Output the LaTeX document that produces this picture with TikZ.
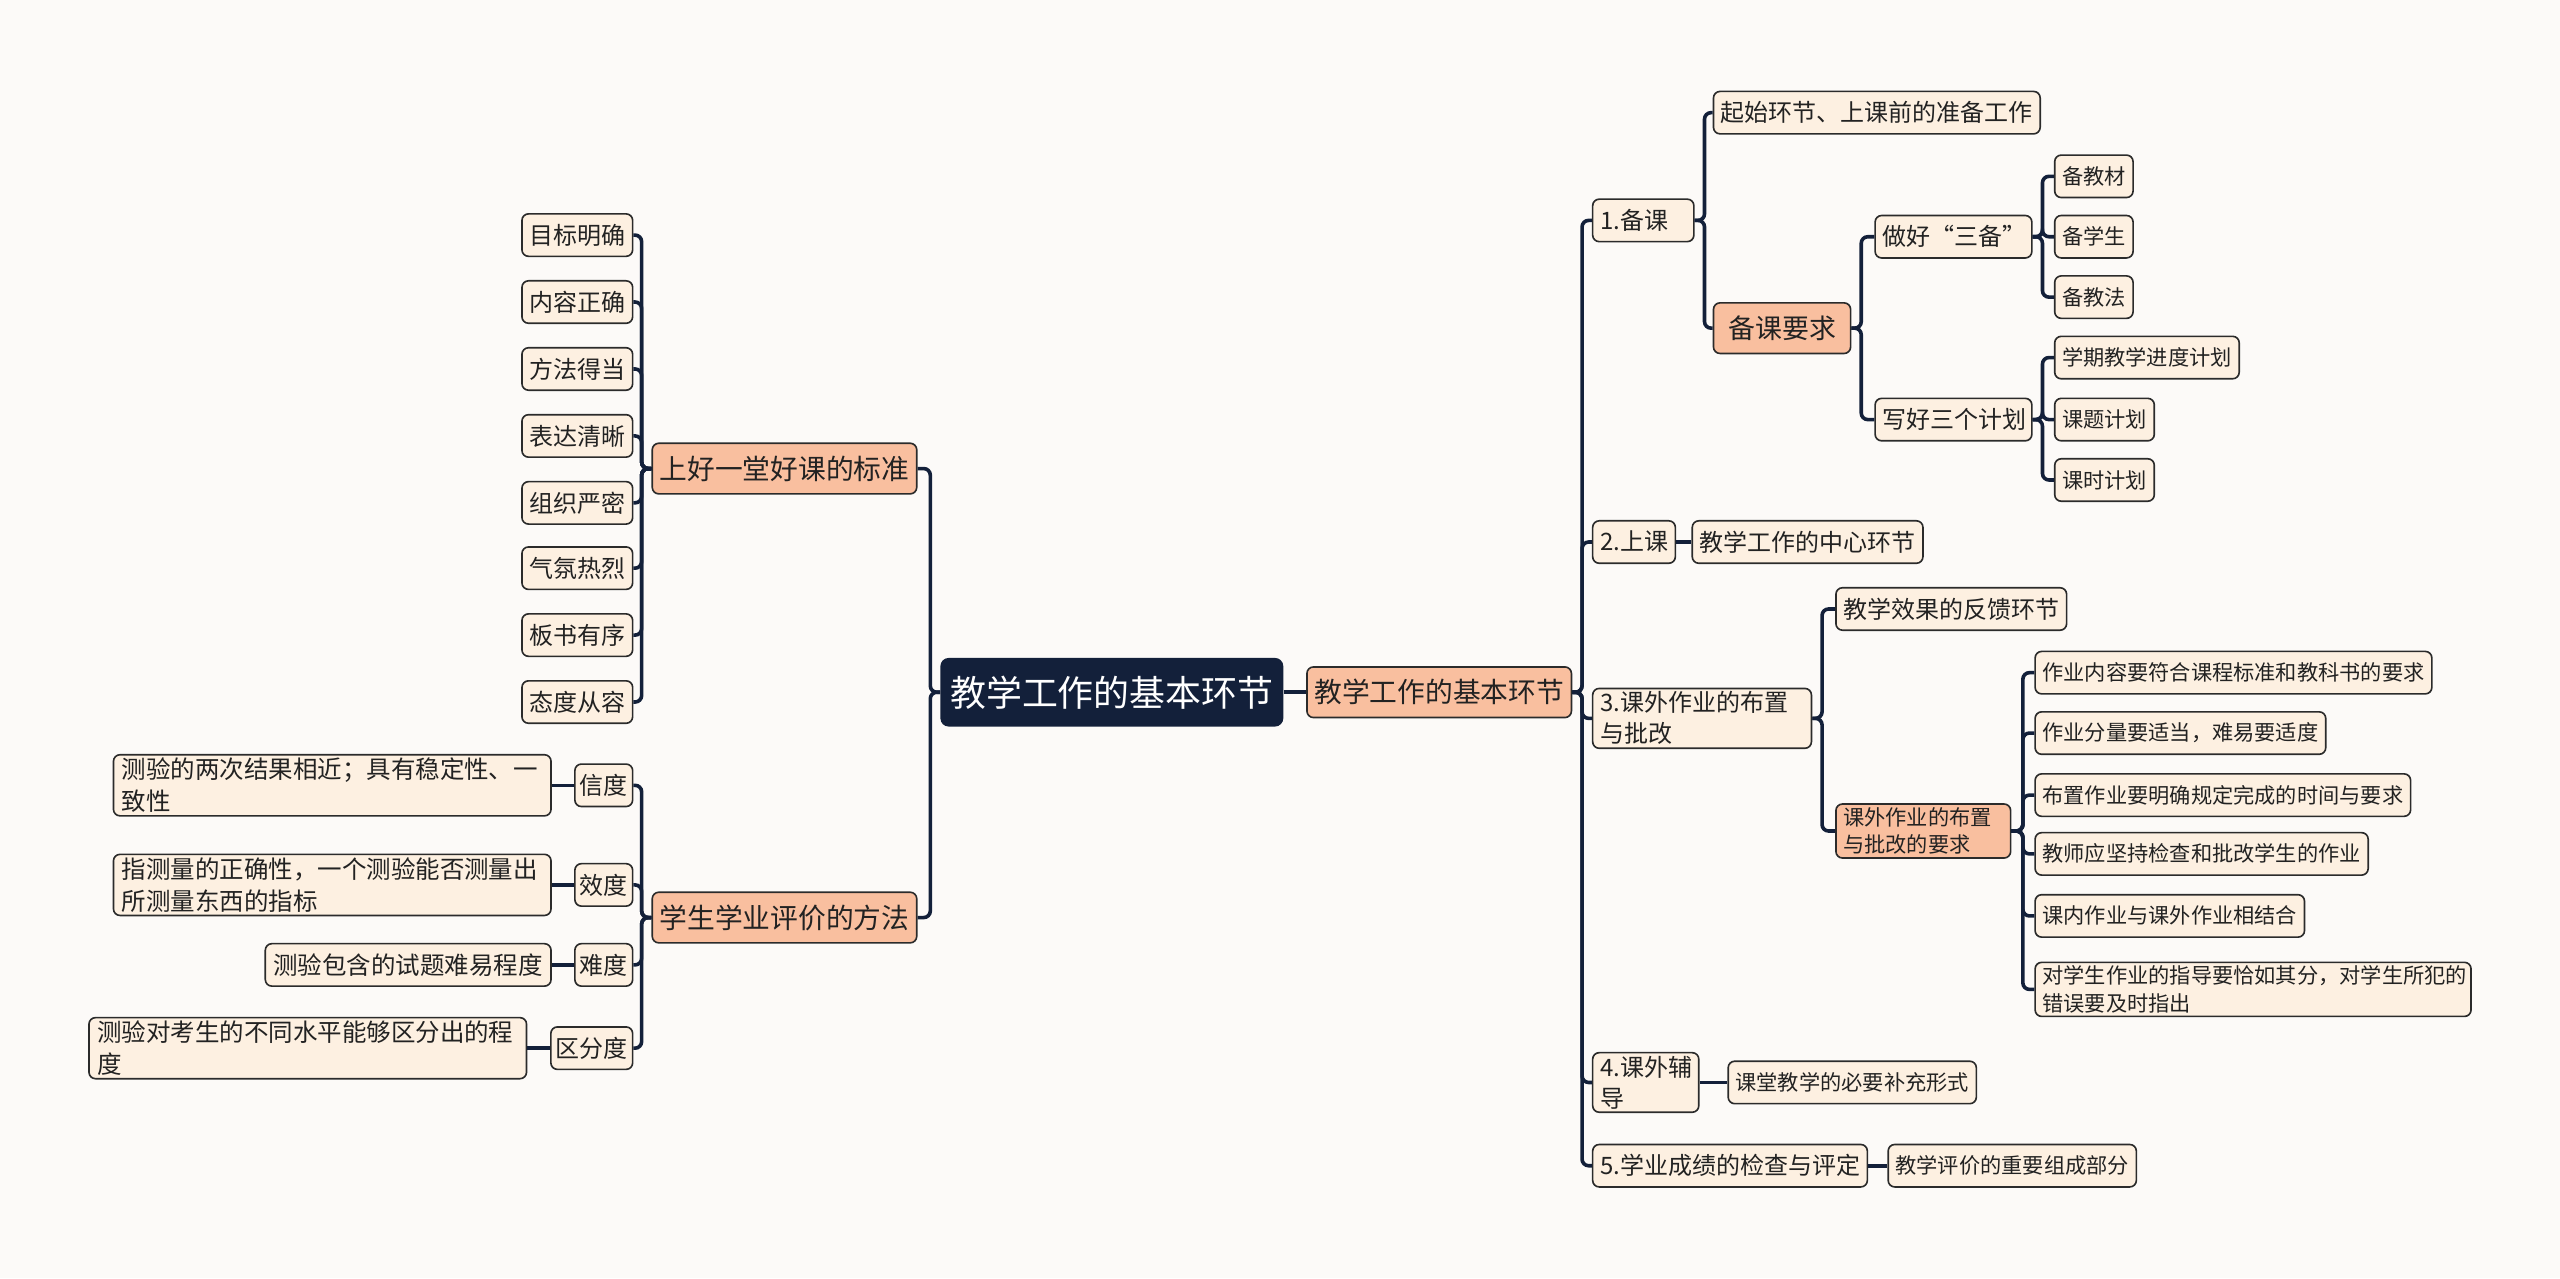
\documentclass[tikz,border=0pt]{standalone}
\usepackage{fontspec}
\setmainfont{Noto Sans CJK SC}
\usepackage{tikz}
\definecolor{mapnavy}{HTML}{13203A}
\definecolor{mappeach}{HTML}{F9BF9F}
\definecolor{mapcream}{HTML}{FDF0E1}
\definecolor{mappaper}{HTML}{FCFAF8}
\definecolor{mapedge}{HTML}{2B2B2B}
\definecolor{mapink}{HTML}{222222}

\tikzset{
  mapbox/.style={draw=mapedge, line width=1pt, rounded corners=4pt, fill=mapcream,
    text=mapink, inner ysep=2pt, inner xsep=4.5pt, minimum height=26pt},
  rootbox/.style={fill=mapnavy, text=white, rounded corners=5pt, inner xsep=6pt,
    minimum height=42pt, font=\fontsize{22}{26}\selectfont},
  mainbox/.style={mapbox, fill=mappeach, minimum height=31pt, font=\fontsize{17}{20}\selectfont},
  midbox/.style={mapbox, font=\fontsize{14.7}{19}\selectfont},
  smallbox/.style={mapbox, font=\fontsize{13}{17}\selectfont},
  descbox/.style={mapbox, font=\fontsize{15}{19.5}\selectfont, inner xsep=5pt},
  link/.style={mapnavy, line width=2.2pt, rounded corners=4pt},
}

\begin{document}
\begin{tikzpicture}[x=1pt,y=-1pt]
  \fill[mappaper] (0,0) rectangle (1568,783);
  \useasboundingbox (0,0) rectangle (1568,783);

  % centre
  \node[rootbox] (root) at (681,424) {教学工作的基本环节};
  \node[mainbox,anchor=west] (basic) at (800,424) {教学工作的基本环节};
  \node[mainbox,anchor=east] (lesson) at (562,287) {上好一堂好课的标准};
  \node[mainbox,anchor=east] (assess) at (562,562) {学生学业评价的方法};
  \draw[link] (root.east) -- (basic.west);
  \draw[link] (root.west) -- ++(-6,0) |- (lesson.east);
  \draw[link] (root.west) -- ++(-6,0) |- (assess.east);

  % right: the five steps
  \node[midbox,anchor=west,text width=53pt,align=left] (prep) at (975,135) {1.备课};
  \node[midbox,anchor=west] (teach) at (975,332) {2.上课};
  \node[midbox,anchor=west,text width=125pt,align=left] (hw) at (975,440) {3.课外作业的布置\\与批改};
  \node[midbox,anchor=west,text width=56pt,align=left] (tutor) at (975,663) {4.课外辅\\导};
  \node[midbox,anchor=west] (exam) at (975,714) {5.学业成绩的检查与评定};
  \foreach \kid in {prep,teach,hw,tutor,exam}
    \draw[link] (basic.east) -- ++(6,0) |- (\kid.west);

  % 1.备课
  \node[midbox,anchor=west] (prepstart) at (1049,69) {起始环节、上课前的准备工作};
  \node[mainbox,anchor=west,font=\fontsize{16.5}{20}\selectfont,inner xsep=9pt] (prepreq) at (1049,201) {备课要求};
  \draw[link] (prep.east) -- ++(6,0) |- (prepstart.west);
  \draw[link] (prep.east) -- ++(6,0) |- (prepreq.west);
  \node[midbox,anchor=west,text width=87pt,align=left] (three) at (1148,145) {做好“三备”};
  \node[midbox,anchor=west,text width=87pt,align=left] (plans) at (1148,257) {写好三个计划};
  \draw[link] (prepreq.east) -- ++(6,0) |- (three.west);
  \draw[link] (prepreq.east) -- ++(6,0) |- (plans.west);
  \foreach \name/\txt/\y in {mat/备教材/108, stu/备学生/145, way/备教法/182} {
    \node[smallbox,anchor=west] (\name) at (1258,\y) {\txt};
    \draw[link] (three.east) -- ++(6,0) |- (\name.west);
  }
  \foreach \name/\txt/\y in {term/学期教学进度计划/219, topic/课题计划/257, period/课时计划/294} {
    \node[smallbox,anchor=west] (\name) at (1258,\y) {\txt};
    \draw[link] (plans.east) -- ++(6,0) |- (\name.west);
  }

  % 2.上课
  \node[midbox,anchor=west] (core) at (1036,332) {教学工作的中心环节};
  \draw[link] (teach.east) -- (core.west);

  % 3.课外作业
  \node[midbox,anchor=west] (feedback) at (1124,373) {教学效果的反馈环节};
  \node[mainbox,anchor=west,font=\fontsize{13}{17}\selectfont,text width=98pt,align=left] (hwreq) at (1124,509) {课外作业的布置\\与批改的要求};
  \draw[link] (hw.east) -- ++(6,0) |- (feedback.west);
  \draw[link] (hw.east) -- ++(6,0) |- (hwreq.west);
  \foreach \name/\txt/\y in {req1/作业内容要符合课程标准和教科书的要求/412,
      req2/作业分量要适当，难易要适度/449,
      req3/布置作业要明确规定完成的时间与要求/487,
      req4/教师应坚持检查和批改学生的作业/523,
      req5/课内作业与课外作业相结合/561} {
    \node[smallbox,anchor=west] (\name) at (1246,\y) {\txt};
    \draw[link] (hwreq.east) -- ++(7,0) |- (\name.west);
  }
  \node[smallbox,anchor=west,text width=258pt,align=left] (req6) at (1246,606) {对学生作业的指导要恰如其分，对学生所犯的\\错误要及时指出};
  \draw[link] (hwreq.east) -- ++(7,0) |- (req6.west);

  % 4. and 5.
  \node[smallbox,anchor=west] (tutoradd) at (1058,663) {课堂教学的必要补充形式};
  \draw[link] (tutor.east) -- (tutoradd.west);
  \node[smallbox,anchor=west] (examadd) at (1156,714) {教学评价的重要组成部分};
  \draw[link] (exam.east) -- (examadd.west);

  % left: a good lesson
  \foreach \name/\txt/\y in {g1/目标明确/144, g2/内容正确/185, g3/方法得当/226, g4/表达清晰/267,
      g5/组织严密/308, g6/气氛热烈/348, g7/板书有序/389, g8/态度从容/430} {
    \node[midbox,anchor=east] (\name) at (388,\y) {\txt};
    \draw[link] (lesson.west) -- ++(-6,0) |- (\name.east);
  }

  % left: assessment
  \node[midbox,anchor=east,inner xsep=3pt] (rel) at (388,481) {信度};
  \node[midbox,anchor=east,inner xsep=3pt] (val) at (388,542) {效度};
  \node[midbox,anchor=east,inner xsep=3pt] (diff) at (388,591) {难度};
  \node[midbox,anchor=east,inner xsep=3pt] (disc) at (388,642) {区分度};
  \foreach \kid in {rel,val,diff,disc}
    \draw[link] (assess.west) -- ++(-6,0) |- (\kid.east);
  \node[descbox,anchor=east,text width=258pt,align=left] (reltxt) at (338,481) {测验的两次结果相近；具有稳定性、一\\致性};
  \node[descbox,anchor=east,text width=258pt,align=left] (valtxt) at (338,542) {指测量的正确性，一个测验能否测量出\\所测量东西的指标};
  \node[descbox,anchor=east] (difftxt) at (338,591) {测验包含的试题难易程度};
  \node[descbox,anchor=east,text width=258pt,align=left] (disctxt) at (323,642) {测验对考生的不同水平能够区分出的程\\度};
  \draw[link] (rel.west) -- (reltxt.east);
  \draw[link] (val.west) -- (valtxt.east);
  \draw[link] (diff.west) -- (difftxt.east);
  \draw[link] (disc.west) -- (disctxt.east);
\end{tikzpicture}
\end{document}
